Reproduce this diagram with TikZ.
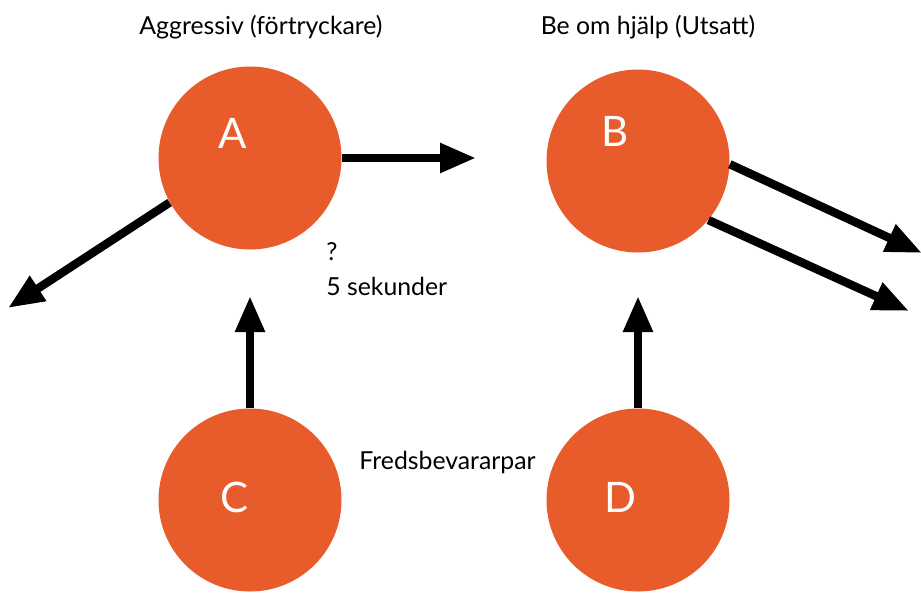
\documentclass[tikz,border=0pt]{standalone}
\usepackage{fontspec}
\setmainfont{Lato}
\usetikzlibrary{arrows.meta}

\definecolor{peace}{RGB}{232,91,42}

\begin{document}
\begin{tikzpicture}[x=0.5pt,y=-0.5pt,
    circ/.style={circle,fill=peace,minimum size=91.5pt,inner sep=0pt},
    letter/.style={text=white,font=\fontsize{21}{24}\selectfont},
    caption/.style={font=\fontsize{12.4}{14}\selectfont,inner sep=0pt},
    arr/.style={line width=4.2pt,-{Triangle[length=18pt,width=14pt]}}]

    \useasboundingbox (0,0) rectangle (921,601);

    % the four people
    \node[circ] (a) at (250,158) {};
    \node[circ] (b) at (638,161) {};
    \node[circ] (c) at (250,500) {};
    \node[circ] (d) at (638,500) {};

    \node[letter] (la) at (233,133) {A};
    \node[letter] (lb) at (615,131) {B};
    \node[letter] (lc) at (235,497) {C};
    \node[letter] (ld) at (620,497) {D};

    % texts
    \node[caption] (ta) at (261,27) {Aggressiv (förtryckare)};
    \node[caption] (tb) at (648,27) {Be om hjälp (Utsatt)};
    \node[caption,anchor=west] (q) at (326,252) {?};
    \node[caption,anchor=west] (sek) at (326,286) {5 sekunder};
    \node[caption,anchor=west] (fred) at (359,462) {Fredsbevararpar};

    % free ends
    \coordinate (ta1) at (476,158);
    \coordinate (ta2) at (8,308);
    \coordinate (tb1) at (922,253);
    \coordinate (tb2) at (909,311);
    \coordinate (tc) at (250,296);
    \coordinate (td) at (638,296);

    % arrows
    \draw[arr] (a.east) -- (ta1);
    \draw[arr] (a.209) -- (ta2);
    \draw[arr] (b.-2) -- (tb1);
    \draw[arr] (b.-40) -- (tb2);
    \draw[arr] (c.north) -- (tc);
    \draw[arr] (d.north) -- (td);
\end{tikzpicture}
\end{document}
